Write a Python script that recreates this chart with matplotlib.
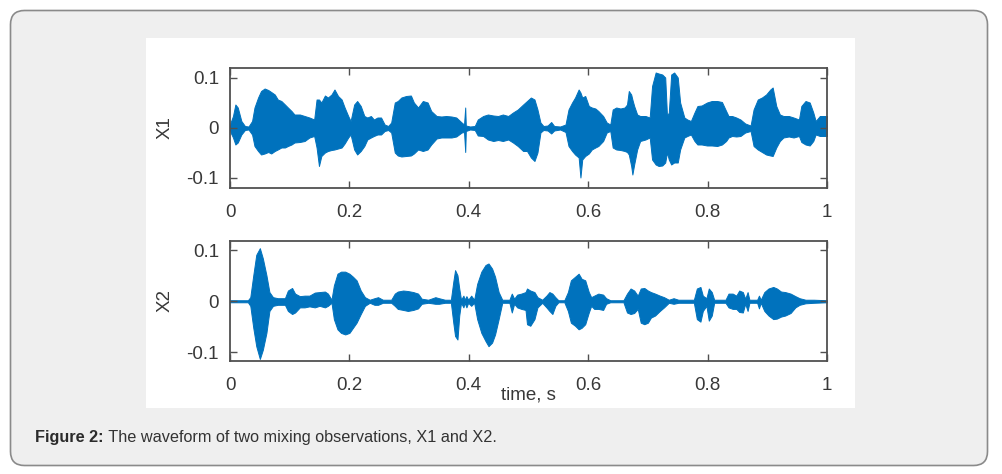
import matplotlib
matplotlib.use("Agg")
import matplotlib.pyplot as plt
from matplotlib.patches import FancyBboxPatch, Rectangle
from matplotlib.transforms import IdentityTransform

plt.rcParams['font.family'] = ['Liberation Sans', 'DejaVu Sans']

# ---------------- data (envelopes) ----------------
x1_t = [0.000, 0.001, 0.005, 0.009, 0.013, 0.019, 0.025, 0.031, 0.037, 0.041,
        0.047, 0.052, 0.058, 0.064, 0.069, 0.075, 0.080, 0.086, 0.092, 0.097,
        0.103, 0.108, 0.117, 0.125, 0.133, 0.141, 0.145, 0.149, 0.153, 0.159,
        0.164, 0.170, 0.175, 0.181, 0.187, 0.192, 0.198, 0.202, 0.208, 0.213,
        0.219, 0.225, 0.230, 0.236, 0.241, 0.247, 0.253, 0.259, 0.265, 0.270,
        0.276, 0.281, 0.287, 0.295, 0.303, 0.308, 0.315, 0.323, 0.331, 0.337,
        0.346, 0.354, 0.362, 0.371, 0.379, 0.388, 0.392, 0.394, 0.395, 0.402,
        0.410, 0.415, 0.424, 0.432, 0.441, 0.449, 0.457, 0.466, 0.474, 0.482,
        0.491, 0.4975, 0.504, 0.510, 0.515, 0.520, 0.525, 0.532, 0.538, 0.543,
        0.553, 0.562, 0.567, 0.573, 0.578, 0.584, 0.587, 0.590, 0.595, 0.601,
        0.606, 0.612, 0.617, 0.625, 0.631, 0.637, 0.641, 0.647, 0.654, 0.661,
        0.665, 0.668, 0.672, 0.674, 0.677, 0.682, 0.687, 0.696, 0.703, 0.707,
        0.713, 0.718, 0.724, 0.729, 0.732, 0.735, 0.739, 0.744, 0.750, 0.754,
        0.761, 0.766, 0.772, 0.778, 0.783, 0.790, 0.799, 0.807, 0.816, 0.824,
        0.831, 0.835, 0.841, 0.848, 0.855, 0.863, 0.872, 0.877, 0.884, 0.891,
        0.898, 0.905, 0.909, 0.915, 0.921, 0.927, 0.936, 0.944, 0.953, 0.957,
        0.964, 0.971, 0.977, 0.981, 0.988, 0.995, 1.000]
x1_upper = [0.004, 0.011, 0.024, 0.047, 0.041, 0.014, 0.004, 0.003, 0.014, 0.041,
            0.061, 0.074, 0.079, 0.076, 0.072, 0.067, 0.057, 0.054, 0.047, 0.041,
            0.034, 0.027, 0.027, 0.024, 0.021, 0.017, 0.057, 0.057, 0.051, 0.065,
            0.061, 0.067, 0.077, 0.064, 0.057, 0.041, 0.024, 0.014, 0.047, 0.054,
            0.044, 0.024, 0.021, 0.024, 0.017, 0.021, 0.021, 0.007, 0.004, 0.011,
            0.051, 0.054, 0.061, 0.064, 0.065, 0.051, 0.041, 0.054, 0.051, 0.034,
            0.024, 0.023, 0.024, 0.023, 0.021, 0.011, 0.007, 0.041, 0.005, 0.003,
            0.004, 0.017, 0.024, 0.027, 0.025, 0.024, 0.027, 0.024, 0.031, 0.037,
            0.047, 0.054, 0.061, 0.057, 0.037, 0.011, 0.004, 0.005, 0.012, 0.004,
            0.003, 0.007, 0.037, 0.051, 0.061, 0.077, 0.071, 0.061, 0.064, 0.044,
            0.041, 0.039, 0.034, 0.024, 0.011, 0.007, 0.037, 0.041, 0.039, 0.041,
            0.047, 0.074, 0.067, 0.057, 0.044, 0.027, 0.024, 0.024, 0.021, 0.084,
            0.111, 0.109, 0.107, 0.101, 0.024, 0.031, 0.107, 0.111, 0.101, 0.051,
            0.021, 0.017, 0.014, 0.031, 0.044, 0.045, 0.051, 0.054, 0.054, 0.052,
            0.034, 0.024, 0.024, 0.021, 0.017, 0.009, 0.005, 0.037, 0.057, 0.061,
            0.067, 0.077, 0.081, 0.044, 0.027, 0.024, 0.024, 0.021, 0.017, 0.044,
            0.054, 0.051, 0.031, 0.014, 0.024, 0.024, 0.024]
x1_lower = [-0.004, -0.009, -0.019, -0.033, -0.029, -0.013, -0.004, -0.003, -0.013, -0.036,
            -0.046, -0.053, -0.051, -0.048, -0.051, -0.046, -0.043, -0.039, -0.039, -0.036,
            -0.033, -0.029, -0.028, -0.026, -0.019, -0.016, -0.039, -0.076, -0.056, -0.049,
            -0.046, -0.044, -0.043, -0.041, -0.039, -0.031, -0.019, -0.013, -0.043, -0.053,
            -0.046, -0.036, -0.023, -0.019, -0.016, -0.013, -0.013, -0.006, -0.004, -0.009,
            -0.049, -0.055, -0.057, -0.056, -0.055, -0.051, -0.043, -0.046, -0.043, -0.033,
            -0.021, -0.019, -0.019, -0.019, -0.017, -0.009, -0.008, -0.048, -0.006, -0.003,
            -0.004, -0.015, -0.016, -0.023, -0.026, -0.024, -0.026, -0.023, -0.029, -0.036,
            -0.046, -0.046, -0.059, -0.066, -0.049, -0.009, -0.004, -0.005, -0.011, -0.005,
            -0.003, -0.008, -0.036, -0.046, -0.053, -0.059, -0.099, -0.063, -0.056, -0.051,
            -0.043, -0.039, -0.036, -0.026, -0.009, -0.006, -0.039, -0.043, -0.044, -0.046,
            -0.048, -0.053, -0.076, -0.093, -0.073, -0.043, -0.026, -0.023, -0.019, -0.063,
            -0.073, -0.076, -0.075, -0.069, -0.049, -0.063, -0.073, -0.069, -0.069, -0.043,
            -0.019, -0.016, -0.013, -0.026, -0.033, -0.033, -0.035, -0.035, -0.036, -0.033,
            -0.026, -0.019, -0.016, -0.017, -0.016, -0.009, -0.006, -0.036, -0.043, -0.048,
            -0.053, -0.055, -0.056, -0.039, -0.026, -0.019, -0.017, -0.019, -0.016, -0.028,
            -0.033, -0.035, -0.026, -0.013, -0.016, -0.016, -0.016]

x2_t = [0.000, 0.030, 0.034, 0.039, 0.044, 0.050, 0.055, 0.061, 0.066, 0.072,
        0.080, 0.092, 0.097, 0.104, 0.109, 0.117, 0.125, 0.133, 0.142, 0.150,
        0.159, 0.164, 0.170, 0.174, 0.180, 0.186, 0.193, 0.200, 0.206, 0.212,
        0.219, 0.226, 0.234, 0.242, 0.248, 0.256, 0.270, 0.276, 0.281, 0.290,
        0.298, 0.307, 0.315, 0.321, 0.332, 0.344, 0.350, 0.360, 0.370, 0.374,
        0.377, 0.381, 0.384, 0.387, 0.391, 0.393, 0.396, 0.399, 0.404, 0.409,
        0.414, 0.421, 0.428, 0.433, 0.439, 0.444, 0.450, 0.456, 0.468, 0.472,
        0.476, 0.481, 0.488, 0.495, 0.4975, 0.503, 0.510, 0.515, 0.523, 0.530,
        0.535, 0.540, 0.545, 0.550, 0.560, 0.566, 0.571, 0.578, 0.584, 0.589,
        0.595, 0.601, 0.605, 0.610, 0.617, 0.625, 0.630, 0.637, 0.659, 0.665,
        0.671, 0.677, 0.683, 0.688, 0.694, 0.700, 0.705, 0.712, 0.720, 0.727,
        0.735, 0.743, 0.751, 0.777, 0.782, 0.788, 0.792, 0.798, 0.802, 0.807,
        0.811, 0.830, 0.835, 0.842, 0.848, 0.853, 0.859, 0.863, 0.867, 0.870,
        0.883, 0.886, 0.889, 0.895, 0.902, 0.910, 0.916, 0.923, 0.930, 0.939,
        0.947, 0.954, 0.964, 0.978, 1.000]
x2_upper = [0.002, 0.002, 0.008, 0.051, 0.091, 0.104, 0.084, 0.051, 0.018, 0.008,
            0.006, 0.006, 0.021, 0.026, 0.015, 0.010, 0.011, 0.011, 0.017, 0.018,
            0.019, 0.015, 0.003, 0.031, 0.054, 0.058, 0.058, 0.054, 0.048, 0.041,
            0.021, 0.008, 0.003, 0.006, 0.008, 0.003, 0.003, 0.015, 0.019, 0.021,
            0.020, 0.018, 0.015, 0.005, 0.003, 0.008, 0.006, 0.003, 0.003, 0.038,
            0.061, 0.051, 0.025, 0.003, 0.011, 0.003, 0.010, 0.003, 0.011, 0.003,
            0.034, 0.058, 0.071, 0.074, 0.064, 0.048, 0.018, 0.003, 0.003, 0.015,
            0.005, 0.013, 0.015, 0.018, 0.025, 0.021, 0.018, 0.008, 0.003, 0.011,
            0.018, 0.015, 0.008, 0.002, 0.002, 0.018, 0.041, 0.048, 0.054, 0.044,
            0.041, 0.018, 0.008, 0.011, 0.015, 0.013, 0.006, 0.002, 0.002, 0.015,
            0.025, 0.021, 0.011, 0.025, 0.026, 0.021, 0.018, 0.015, 0.011, 0.008,
            0.003, 0.006, 0.003, 0.003, 0.025, 0.028, 0.011, 0.006, 0.025, 0.018,
            0.003, 0.003, 0.015, 0.015, 0.011, 0.021, 0.018, 0.005, 0.018, 0.003,
            0.003, 0.011, 0.003, 0.018, 0.025, 0.028, 0.025, 0.019, 0.018, 0.015,
            0.010, 0.006, 0.003, 0.003, 0.002]
x2_lower = [-0.002, -0.002, -0.009, -0.052, -0.088, -0.113, -0.095, -0.062, -0.019, -0.009,
            -0.007, -0.007, -0.019, -0.025, -0.022, -0.012, -0.012, -0.010, -0.012, -0.009,
            -0.012, -0.009, -0.003, -0.035, -0.055, -0.062, -0.065, -0.062, -0.052, -0.042,
            -0.025, -0.009, -0.003, -0.007, -0.007, -0.003, -0.003, -0.009, -0.015, -0.017,
            -0.019, -0.017, -0.014, -0.005, -0.003, -0.005, -0.005, -0.003, -0.003, -0.042,
            -0.068, -0.075, -0.028, -0.003, -0.012, -0.003, -0.012, -0.003, -0.009, -0.003,
            -0.035, -0.062, -0.078, -0.088, -0.081, -0.065, -0.035, -0.003, -0.003, -0.022,
            -0.005, -0.012, -0.015, -0.017, -0.045, -0.048, -0.035, -0.012, -0.003, -0.012,
            -0.019, -0.025, -0.009, -0.002, -0.002, -0.019, -0.042, -0.048, -0.055, -0.052,
            -0.045, -0.022, -0.009, -0.015, -0.015, -0.017, -0.005, -0.002, -0.002, -0.022,
            -0.025, -0.023, -0.015, -0.042, -0.045, -0.042, -0.032, -0.028, -0.019, -0.012,
            -0.003, -0.005, -0.003, -0.003, -0.035, -0.040, -0.019, -0.009, -0.038, -0.028,
            -0.003, -0.003, -0.012, -0.015, -0.015, -0.021, -0.022, -0.005, -0.019, -0.003,
            -0.003, -0.014, -0.003, -0.019, -0.028, -0.035, -0.034, -0.030, -0.028, -0.023,
            -0.012, -0.007, -0.004, -0.003, -0.002]

series_names = ["X1", "X2"]
x_ticks = [0, 0.2, 0.4, 0.6, 0.8, 1]
x_tick_labels = ["0", "0.2", "0.4", "0.6", "0.8", "1"]
y_ticks = [-0.1, 0, 0.1]
y_tick_labels = ["-0.1", "0", "0.1"]
x_label = "time, s"
caption_bold = "Figure 2:"
caption_rest = " The waveform of two mixing observations, X1 and X2."

assert len(x1_t) == len(x1_upper) == len(x1_lower)
assert len(x2_t) == len(x2_upper) == len(x2_lower)

# ---------------- figure ----------------
W, H = 1002, 474
fig = plt.figure(figsize=(W / 100, H / 100), dpi=100)
fig.patch.set_facecolor("white")

outer = FancyBboxPatch((10.5, H - 465.5), 977, 455,
                       boxstyle="round,pad=0,rounding_size=14",
                       transform=IdentityTransform(), facecolor="#efefef",
                       edgecolor="#8a8a8a", linewidth=1.2, zorder=-20)
fig.add_artist(outer)
inner = Rectangle((146, H - 408), 709, 370, transform=IdentityTransform(),
                  facecolor="white", edgecolor="none", zorder=-10)
fig.add_artist(inner)

blue = "#0072BD"
spine_col = "#505050"
label_col = "#383838"
fs = 13.5

def px_axes(left, top, right, bottom):
    return [left / W, 1 - bottom / H, (right - left) / W, (bottom - top) / H]

ax1 = fig.add_axes(px_axes(230, 68, 827, 188))
ax2 = fig.add_axes(px_axes(230, 241, 827, 361))

for ax, t, up, lo, name, ylim in [
        (ax1, x1_t, x1_upper, x1_lower, series_names[0], (-0.12, 0.12)),
        (ax2, x2_t, x2_upper, x2_lower, series_names[1], (-0.117, 0.118))]:
    ax.fill_between(t, lo, up, facecolor=blue, edgecolor=blue, linewidth=0.7)
    ax.set_xlim(0, 1)
    ax.set_ylim(*ylim)
    ax.set_xticks(x_ticks)
    ax.set_xticklabels(x_tick_labels)
    ax.set_yticks(y_ticks)
    ax.set_yticklabels(y_tick_labels)
    ax.tick_params(direction="in", length=5, width=1, top=True, right=True,
                   color=spine_col, labelcolor=label_col, labelsize=fs)
    ax.tick_params(axis="x", pad=11.5)
    ax.tick_params(axis="y", pad=8)
    for sp in ax.spines.values():
        sp.set_color(spine_col)
        sp.set_linewidth(1.3)
    ax.set_ylabel(name, fontsize=fs, color=label_col, va="center")
    ax.yaxis.set_label_coords(-0.109, 0.5)

ax2.set_xlabel(x_label, fontsize=fs, color=label_col, va="top")
ax2.xaxis.set_label_coords(0.5, -0.215)

# caption
cap_fs = 11.7
t1 = fig.text(35 / W, 1 - 442 / H, caption_bold, fontsize=cap_fs,
              fontweight="bold", color="#2b2b2b", va="baseline", ha="left")
renderer = fig.canvas.get_renderer()
bb = t1.get_window_extent(renderer)
fig.text(bb.x1 / W, 1 - 442 / H, caption_rest, fontsize=cap_fs,
         color="#333333", va="baseline", ha="left")

fig.savefig("out.png", dpi=100)
